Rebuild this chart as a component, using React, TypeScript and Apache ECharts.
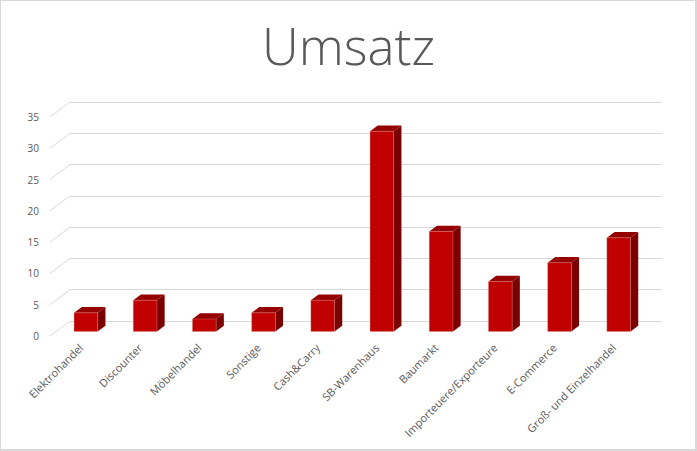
import { useEffect, useRef } from "react";
import * as echarts from "echarts";

const categories = [
  "Elektrohandel",
  "Discounter",
  "Möbelhandel",
  "Sonstige",
  "Cash&Carry",
  "SB-Warenhaus",
  "Baumarkt",
  "Importeuere/Exporteure",
  "E-Commerce",
  "Groß- und Einzelhandel",
];
const umsatz = [3, 5, 2, 3, 5, 32, 16, 8, 11, 15];
const yTicks = [0, 5, 10, 15, 20, 25, 30, 35];
const Y_MIN = 0;
const Y_MAX = 35;
const Y_STEP = 5;

// 3D look: front face offset from the back wall, bar depth
const FRONT_DX = -13.7;
const FRONT_DY = 10.5;
const DEPTH_DX = 7.7;
const DEPTH_DY = -5.7;
// left side wall (diagonal grid lines)
const WALL_DX = -20;
const WALL_DY = 15;

const FONT = "'Open Sans', 'Noto Sans', sans-serif";
const TEXT = "#595959";
const GRID_LINE = "#d9d9d9";

const App = () => {
  const chartRef = useRef<HTMLDivElement>(null);

  useEffect(() => {
    if (!chartRef.current) return;
    const chart = echarts.init(chartRef.current, null, { renderer: "svg" });

    const hiddenAxis = {
      axisLine: { show: false },
      axisTick: { show: false },
      axisLabel: { show: false },
      splitLine: { show: false },
    };

    const option: echarts.EChartsOption = {
      animation: false,
      backgroundColor: "#ffffff",
      title: {
        text: "Umsatz",
        left: "center",
        top: 14,
        textStyle: {
          fontFamily: FONT,
          fontSize: 51,
          fontWeight: 300,
          color: TEXT,
        },
      },
      grid: [
        // back wall
        { left: 70, right: 35, top: 102, bottom: 130 },
        // front plane, y labels
        { left: 50, right: 55, top: 117, bottom: 115 },
        // front plane, x labels
        { left: 51.3, right: 53.7, top: 117, bottom: 115 },
      ],
      xAxis: [
        { type: "category", data: categories, gridIndex: 0, ...hiddenAxis },
        { type: "category", data: categories, gridIndex: 1, ...hiddenAxis },
        {
          type: "category",
          data: categories,
          gridIndex: 2,
          axisLine: { show: false },
          axisTick: { show: false },
          splitLine: { show: false },
          axisLabel: {
            interval: 0,
            rotate: 45,
            margin: 9.5,
            color: TEXT,
            fontFamily: FONT,
            fontSize: 11,
          },
        },
      ],
      yAxis: [
        {
          type: "value",
          gridIndex: 0,
          min: Y_MIN,
          max: Y_MAX,
          interval: Y_STEP,
          axisLine: { show: false },
          axisTick: { show: false },
          axisLabel: { show: false },
          splitLine: { lineStyle: { color: GRID_LINE, width: 1 } },
        },
        {
          type: "value",
          gridIndex: 1,
          min: Y_MIN,
          max: Y_MAX,
          interval: Y_STEP,
          axisLine: { show: false },
          axisTick: { show: false },
          splitLine: { show: false },
          axisLabel: {
            margin: 11,
            color: TEXT,
            fontFamily: FONT,
            fontSize: 10,
          },
        },
        {
          type: "value",
          gridIndex: 2,
          min: Y_MIN,
          max: Y_MAX,
          interval: Y_STEP,
          ...hiddenAxis,
        },
      ],
      series: [
        {
          // left wall diagonals
          type: "custom",
          xAxisIndex: 0,
          yAxisIndex: 0,
          clip: false,
          silent: true,
          data: yTicks.map((t) => [0, t]),
          renderItem: (params: any, api: any) => {
            const x0 = params.coordSys.x;
            const y = api.coord([0, api.value(1)])[1];
            return {
              type: "line",
              shape: { x1: x0, y1: y, x2: x0 + WALL_DX, y2: y + WALL_DY },
              style: { stroke: GRID_LINE, lineWidth: 1 },
            };
          },
        },
        {
          type: "custom",
          name: "Umsatz",
          xAxisIndex: 0,
          yAxisIndex: 0,
          clip: false,
          data: umsatz.map((v, i) => [i, v]),
          renderItem: (_params: any, api: any) => {
            const idx = api.value(0);
            const val = api.value(1);
            const base = api.coord([idx, 0]);
            const top = api.coord([idx, val]);
            const bw = api.size([1, 0])[0] * 0.4;
            const cx = base[0] + FRONT_DX;
            const L = cx - bw / 2;
            const R = cx + bw / 2;
            const T = top[1] + FRONT_DY;
            const B = base[1] + FRONT_DY;
            return {
              type: "group",
              children: [
                {
                  type: "polygon",
                  shape: {
                    points: [
                      [R, T],
                      [R + DEPTH_DX, T + DEPTH_DY],
                      [R + DEPTH_DX, B + DEPTH_DY],
                      [R, B],
                    ],
                  },
                  style: { fill: "#7a0000" },
                },
                {
                  type: "polygon",
                  shape: {
                    points: [
                      [L, T],
                      [L + DEPTH_DX, T + DEPTH_DY],
                      [R + DEPTH_DX, T + DEPTH_DY],
                      [R, T],
                    ],
                  },
                  style: { fill: "#940000" },
                },
                {
                  type: "rect",
                  shape: { x: L, y: T, width: R - L, height: B - T },
                  style: {
                    fill: "#c00000",
                    stroke: "rgba(230,140,140,0.6)",
                    lineWidth: 0.6,
                  },
                },
              ],
            };
          },
        },
      ],
    };

    chart.setOption(option);
    return () => {
      chart.dispose();
    };
  }, []);

  return (
    <div
      style={{
        position: "absolute",
        left: 0,
        top: 0,
        width: 697,
        height: 451,
        background: "#fff",
      }}
    >
      <div ref={chartRef} style={{ width: 697, height: 451 }} />
      <div
        style={{
          position: "absolute",
          left: 0,
          top: 0,
          width: 697,
          height: 451,
          boxSizing: "border-box",
          border: "1px solid #d9d9d9",
          borderRightWidth: 2,
          borderBottomWidth: 2,
          pointerEvents: "none",
        }}
      />
    </div>
  );
};

export default App;
